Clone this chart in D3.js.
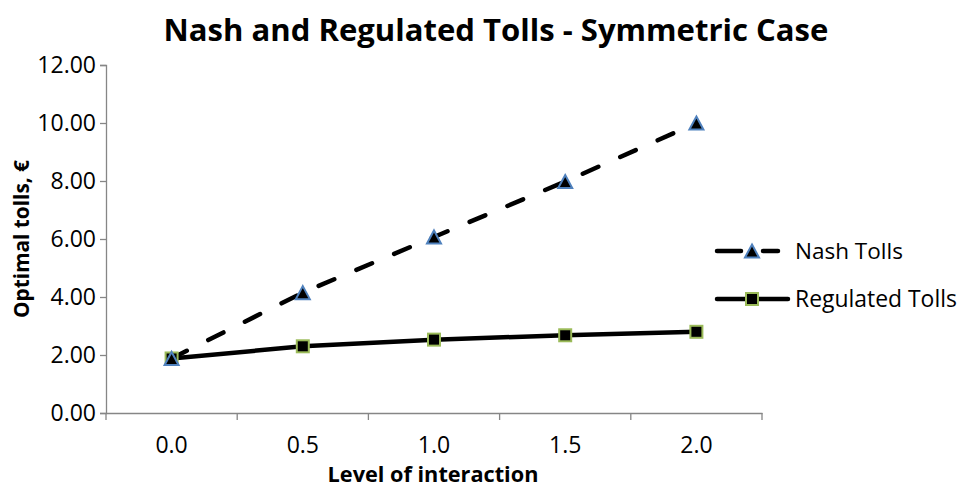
<!DOCTYPE html>
<html><head><meta charset="utf-8">
<script src="https://cdn.jsdelivr.net/npm/d3@7"></script>
<style>body{margin:0;background:#fff}svg{display:block}text{font-family:"Open Sans",sans-serif;fill:#000}</style>
</head><body><svg id="c" width="962" height="493"></svg>
<script>
const categories = ["0.0","0.5","1.0","1.5","2.0"];
const nashTolls = [1.88, 4.15, 6.07, 7.98, 10.0];
const regulatedTolls = [1.88, 2.30, 2.53, 2.68, 2.80];
const yTicks = [0,2,4,6,8,10,12];
const seriesNames = ["Nash Tolls","Regulated Tolls"];
const titleText = "Nash and Regulated Tolls - Symmetric Case";
const xTitle = "Level of interaction";
const yTitle = "Optimal tolls, €";

const svg = d3.select("#c");
const m = {l:106, r:762, t:65, b:413};
const x = d3.scaleBand().domain(categories).range([m.l, m.r]);
const y = d3.scaleLinear().domain([0,12]).range([m.b, m.t]);
const axisColor = "#868686";

function fit(sel, w){
  const n = sel.node(); const fs = parseFloat(sel.attr("font-size"));
  const len = n.getComputedTextLength();
  sel.attr("font-size", fs * w / len);
}

// Y axis
const ya = svg.append("g").attr("transform",`translate(${m.l},0)`)
  .call(d3.axisLeft(y).tickValues(yTicks).tickSize(6).tickPadding(4).tickFormat(d3.format(".2f")));
ya.select(".domain").attr("stroke",axisColor).attr("stroke-width",1.3);
ya.selectAll(".tick line").attr("stroke",axisColor).attr("stroke-width",1.3);
ya.selectAll(".tick text").attr("font-size",23).attr("font-family","Open Sans").attr("fill","#000");

// X axis
const xa = svg.append("g").attr("transform",`translate(0,${m.b})`)
  .call(d3.axisBottom(x).tickSize(0).tickPadding(24));
xa.select(".domain").attr("stroke",axisColor).attr("stroke-width",1.3);
xa.selectAll(".tick text").attr("font-size",23).attr("font-family","Open Sans").attr("fill","#000");
// boundary ticks
const bounds = categories.map(c=>x(c)).concat([m.r]);
xa.selectAll("line.bt").data(bounds).enter().append("line").attr("class","bt")
  .attr("x1",d=>d).attr("x2",d=>d).attr("y1",0).attr("y2",7)
  .attr("stroke",axisColor).attr("stroke-width",1.3);

const cx = c => x(c) + x.bandwidth()/2;

// lines
const line = d3.line().x((d,i)=>cx(categories[i])).y(d=>y(d));
svg.append("path").datum(regulatedTolls).attr("d",line).attr("fill","none")
  .attr("stroke","#000").attr("stroke-width",4.5).attr("stroke-linejoin","round").attr("stroke-linecap","round");
svg.append("path").datum(nashTolls).attr("d",line).attr("fill","none")
  .attr("stroke","#000").attr("stroke-width",4.5).attr("stroke-dasharray","17,24").attr("stroke-linecap","round");

function tri(g, px, py){
  g.append("path").attr("d",`M${px},${py-6.5} L${px+7},${py+6.5} L${px-7},${py+6.5} Z`)
   .attr("fill","#000").attr("stroke","#4F81BD").attr("stroke-width",2);
}
function sq(g, px, py){
  g.append("rect").attr("x",px-6).attr("y",py-6).attr("width",12).attr("height",12)
   .attr("fill","#000").attr("stroke","#9BBB59").attr("stroke-width",2);
}
const mk = svg.append("g");
regulatedTolls.forEach((v,i)=>sq(mk, cx(categories[i]), y(v)));
nashTolls.forEach((v,i)=>tri(mk, cx(categories[i]), y(v)));

// legend
const lg = svg.append("g");
const legY = [251, 299];
lg.append("line").attr("x1",717).attr("x2",741).attr("y1",legY[0]).attr("y2",legY[0]).attr("stroke","#000").attr("stroke-width",4.5).attr("stroke-linecap","round");
lg.append("line").attr("x1",763).attr("x2",778).attr("y1",legY[0]).attr("y2",legY[0]).attr("stroke","#000").attr("stroke-width",4.5).attr("stroke-linecap","round");
tri(lg, 752, legY[0]);
lg.append("line").attr("x1",717).attr("x2",788).attr("y1",legY[1]).attr("y2",legY[1]).attr("stroke","#000").attr("stroke-width",4.5).attr("stroke-linecap","round");
sq(lg, 752, legY[1]);
seriesNames.forEach((n,i)=>{
  const t = lg.append("text").attr("x",795).attr("y",legY[i]).attr("dy","0.35em").attr("font-size",22).text(n);
  fit(t, i===0 ? 108 : 162);
});

// titles
const tt = svg.append("text").attr("x",496).attr("y",41).attr("text-anchor","middle")
  .attr("font-weight","bold").attr("font-size",27).text(titleText);
fit(tt, 665);
const xt = svg.append("text").attr("x",433).attr("y",482).attr("text-anchor","middle")
  .attr("font-weight","bold").attr("font-size",20).text(xTitle);
fit(xt, 211);
const yt = svg.append("text").attr("transform","translate(29,239) rotate(-90)").attr("text-anchor","middle")
  .attr("font-weight","bold").attr("font-size",20).text(yTitle);
fit(yt, 158);
</script></body></html>
